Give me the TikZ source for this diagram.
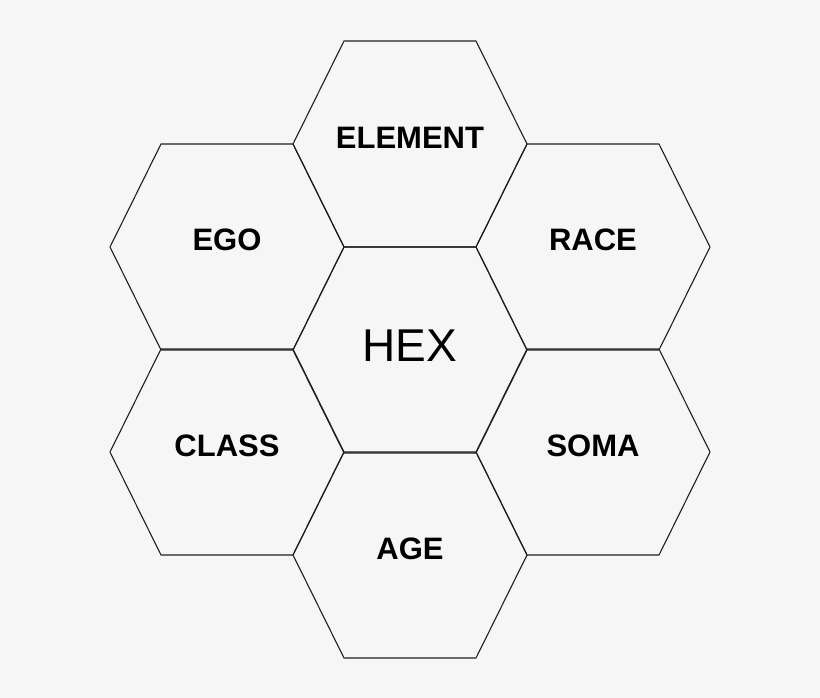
\documentclass[tikz,border=0pt]{standalone}
\usepackage{fontspec}
\setmainfont{Liberation Sans}
\begin{document}
\begin{tikzpicture}[x=1pt,y=-1pt,
  hexline/.style={draw=black!88,line width=1.1pt,line join=miter},
  lbl/.style={font=\fontsize{31}{31}\selectfont\bfseries,inner sep=0pt,anchor=center},
  biglbl/.style={font=\fontsize{46}{46}\selectfont,inner sep=0pt,anchor=center}]
\fill[white!96.5!black] (0,0) rectangle (820,698);
\useasboundingbox (0,0) rectangle (820,698);
\newcommand{\hexat}[2]{%
  \draw[hexline] (#1-66,#2-103) -- (#1+66,#2-103) -- (#1+117,#2) -- (#1+66,#2+103) -- (#1-66,#2+103) -- (#1-117,#2) -- cycle;}
\hexat{410}{350}
\hexat{410}{144}
\hexat{410}{555}
\hexat{227}{247}
\hexat{593}{247}
\hexat{227}{452}
\hexat{593}{452}
\node[biglbl] (hex) at (410,346) {HEX};
\node[lbl] (element) at (410,138) {ELEMENT};
\node[lbl] (age) at (410,549) {AGE};
\node[lbl] (ego) at (227,240) {EGO};
\node[lbl] (race) at (593,240) {RACE};
\node[lbl] (class) at (227,446) {CLASS};
\node[lbl] (soma) at (593,446) {SOMA};
\end{tikzpicture}
\end{document}
